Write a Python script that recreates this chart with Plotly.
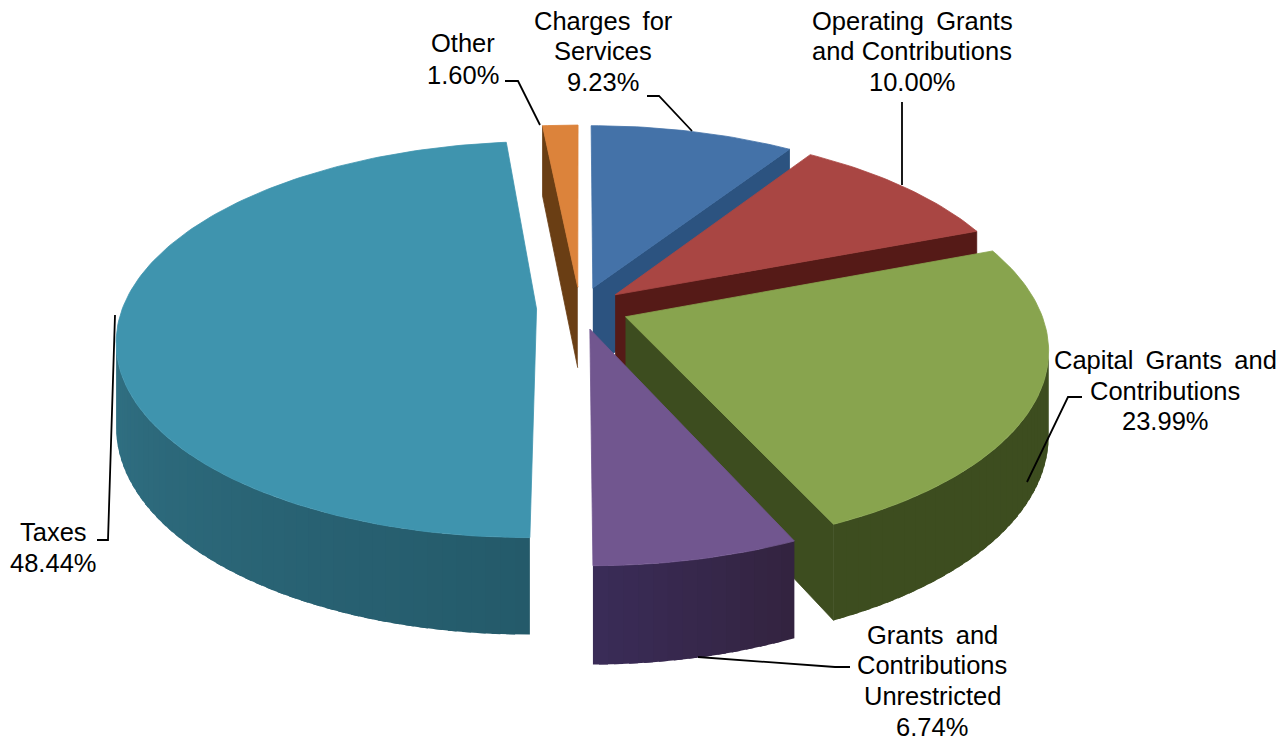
import numpy as np
import plotly.graph_objects as go

categories = ["Charges for Services", "Operating Grants and Contributions",
              "Capital Grants and Contributions", "Grants and Contributions Unrestricted",
              "Taxes", "Other"]
values = [9.23, 10.00, 23.99, 6.74, 48.44, 1.60]
top_colors = ["#4472a8", "#a94643", "#88a44e", "#71568f", "#3f94ae", "#dc833b"]
face_colors = ["#2c5380", "#551a17", "#3d4d1f", "#37294f", "#2b6a7d", "#6a3e14"]
wall_left = ["#2c5380", "#551a17", "#3d4d1f", "#3a2c58", "#3f8aa0", "#6a3e14"]
wall_right = ["#2c5380", "#551a17", "#3d4d1f", "#33233f", "#245a6a", "#6a3e14"]
pull = [0.11, 0.11, 0.118, 0.11, 0.105, 0.11]

# draw order, back to front
order = [5, 0, 1, 4, 2, 3]

labels = [
    (["Other", "1.60%"], 463, [43, 75]),
    (["Charges\u00a0\u2009for", "Services", "9.23%"], 603, [21, 51, 82]),
    (["Operating\u00a0\u2009Grants", "and Contributions", "10.00%"], 912, [21, 51, 82]),
    (["Capital\u00a0\u2009Grants\u00a0\u2009and", "Contributions", "23.99%"], 1165, [360, 391, 421]),
    (["Grants\u00a0\u2009and", "Contributions", "Unrestricted", "6.74%"], 932, [635, 665, 696, 727]),
    (["Taxes", "48.44%"], 53, [532, 563]),
]
leaders = [
    [(505, 81), (518, 81), (540, 125)],
    [(647, 96), (659, 96), (692, 131)],
    [(902, 102), (902, 185)],
    [(1082, 397), (1068, 397), (1027, 482)],
    [(850, 667), (835, 667), (698, 657)],
    [(97, 540), (108, 540), (115, 315)],
]

# view of the tilted disc
CX, CY, S, TILT, PERSP, DEPTH = 580, 308, 414, 193, 0.154, 82


def project(X, Y, z=0.0):
    X, Y = np.asarray(X, float), np.asarray(Y, float)
    w = 1 + PERSP * Y
    return CX + S * X / w, CY + (-TILT * Y + DEPTH * z) / w


def mix(a, b, t):
    ca = [int(a[i:i + 2], 16) for i in (1, 3, 5)]
    cb = [int(b[i:i + 2], 16) for i in (1, 3, 5)]
    return "rgb(%d,%d,%d)" % tuple(round(p + (q - p) * t) for p, q in zip(ca, cb))


fig = go.Figure()


def poly(xs, ys, color, width=0.8):
    fig.add_trace(go.Scatter(x=list(xs), y=list(ys), mode="lines", fill="toself",
                             fillcolor=color, line=dict(color=color, width=width),
                             hoverinfo="skip", showlegend=False))


total = sum(values)
edges = np.concatenate([[0], np.cumsum(values)]) / total * 2 * np.pi
camera = np.array([0.0, -1 / PERSP])

for i in order:
    a0, a1 = edges[i], edges[i + 1]
    mid = (a0 + a1) / 2
    ox, oy = pull[i] * np.sin(mid), pull[i] * np.cos(mid)
    apex = np.array([ox, oy])
    to_cam = camera - apex

    # cut faces, kept only when they clearly look towards the viewer
    for ang, sign in ((a0, -1), (a1, 1)):
        normal = sign * np.array([np.cos(ang), -np.sin(ang)])
        if normal @ to_cam > 0.3:
            rx, ry = ox + np.sin(ang), oy + np.cos(ang)
            xa, ya = project([ox, rx], [oy, ry], 0)
            xb, yb = project([rx, ox], [ry, oy], 1)
            poly(list(xa) + list(xb), list(ya) + list(yb), face_colors[i])

    # outer wall, in narrow strips so the shade can change along it
    n = max(6, int((a1 - a0) / 0.03))
    th = np.linspace(a0, a1, n + 1)
    for j in range(n):
        t0, t1 = th[j], th[j + 1]
        tm = (t0 + t1) / 2
        rim = np.array([ox + np.sin(tm), oy + np.cos(tm)])
        if np.array([np.sin(tm), np.cos(tm)]) @ (camera - rim) <= 0:
            continue
        # each strip runs a little over the next one so no seam shows
        seg = np.linspace(t0, min(t1 + (t1 - t0) * 0.6, a1), 4)
        X, Y = ox + np.sin(seg), oy + np.cos(seg)
        xa, ya = project(X, Y, 0)
        xb, yb = project(X[::-1], Y[::-1], 1)
        poly(list(xa) + list(xb), list(ya) + list(yb),
             mix(wall_right[i], wall_left[i], (j + 0.5) / n), width=0)

    # top face
    th = np.linspace(a0, a1, max(8, int((a1 - a0) / 0.02)))
    X = np.concatenate([[ox], ox + np.sin(th), [ox]])
    Y = np.concatenate([[oy], oy + np.cos(th), [oy]])
    xt, yt = project(X, Y, 0)
    poly(xt, yt, top_colors[i])

for pts in leaders:
    fig.add_trace(go.Scatter(x=[p[0] for p in pts], y=[p[1] for p in pts], mode="lines",
                             line=dict(color="#000000", width=1.8),
                             hoverinfo="skip", showlegend=False))

for lines, x, ys in labels:
    for line, y in zip(lines, ys):
        fig.add_annotation(x=x, y=y, text=line, showarrow=False, xanchor="center",
                           yanchor="middle",
                           font=dict(family="Liberation Sans", size=25.5, color="#000000"))

fig.update_xaxes(visible=False, range=[0, 1288], fixedrange=True)
fig.update_yaxes(visible=False, range=[740, 0], fixedrange=True)
fig.update_layout(width=1288, height=740, margin=dict(l=0, r=0, t=0, b=0),
                  paper_bgcolor="white", plot_bgcolor="white", showlegend=False)
fig.write_html("out.html", config={"displayModeBar": False},
               post_script="document.body.style.margin='0';")
